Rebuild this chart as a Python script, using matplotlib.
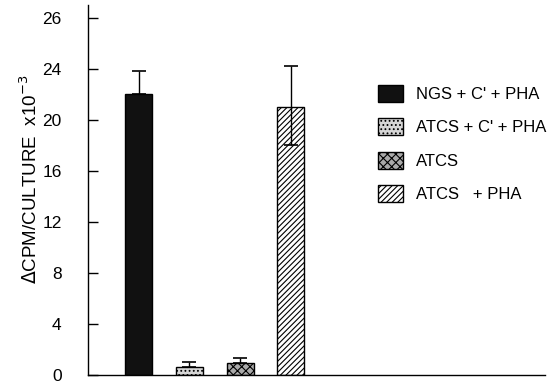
import matplotlib
matplotlib.use("Agg")
import matplotlib.pyplot as plt
from matplotlib.patches import Patch

plt.rcParams['font.family'] = ['Liberation Sans', 'DejaVu Sans']
plt.rcParams['hatch.linewidth'] = 0.8

labels = ["NGS + C' + PHA", "ATCS + C' + PHA", "ATCS", "ATCS   + PHA"]
values = [22.0, 0.6, 0.9, 21.0]
err_up = [1.8, 0.4, 0.4, 3.2]
err_down = [0.0, 0.0, 0.0, 3.0]
# tick positions and their printed labels (top tick is printed "26" in the original)
ytick_pos = [0, 4, 8, 12, 16, 20, 24, 28]
ytick_lab = ['0', '4', '8', '12', '16', '20', '24', '26']

faces = ['#111111', '#d6d6d6', '#aaaaaa', 'white']
hatches = [None, '....', 'xxxx', '//////']

fig = plt.figure(figsize=(5.5, 3.83), dpi=100)
ax = fig.add_axes([0.16, 0.021, 0.83, 0.966])

xs = [1, 2, 3, 4]
for x, v, fc, h, eu, ed in zip(xs, values, faces, hatches, err_up, err_down):
    ax.bar(x, v, width=0.53, color=fc, edgecolor='black', hatch=h, linewidth=1.0, zorder=2)
    ax.errorbar(x, v, yerr=[[ed], [eu]], fmt='none', ecolor='black', elinewidth=1.0,
                capsize=5, capthick=1.2, zorder=3)

ax.set_xlim(0, 9)
ax.set_ylim(0, 29)
ax.set_yticks(ytick_pos)
ax.set_yticklabels(ytick_lab, fontsize=12.5)
ax.tick_params(axis='y', direction='in', length=7, width=1.0, pad=19)
ax.tick_params(axis='x', bottom=False, labelbottom=False)
ax.spines['top'].set_visible(False)
ax.spines['right'].set_visible(False)
ax.spines['left'].set_linewidth(1.0)
ax.spines['bottom'].set_linewidth(1.0)

ax.set_ylabel(r"$\Delta$CPM/CULTURE  x10$^{-3}$", fontsize=13.5)
ax.yaxis.set_label_coords(-0.102, 0.53)

handles = [Patch(facecolor=fc, edgecolor='black', hatch=h, linewidth=1.0)
           for fc, h in zip(faces, hatches)]
leg = ax.legend(handles, labels, loc='upper left', bbox_to_anchor=(0.635, 0.785),
                frameon=False, fontsize=12, handlelength=1.5, handleheight=1.2,
                labelspacing=0.98, handletextpad=0.8, borderaxespad=0, borderpad=0)

fig.savefig("out.png", dpi=100)
